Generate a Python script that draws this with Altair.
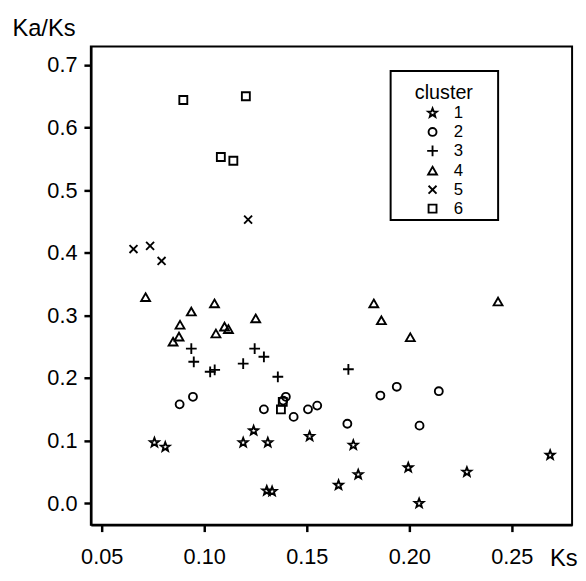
import math
import altair as alt
import pandas as pd

# ---- data (Ks, Ka/Ks) per cluster ----
ks_c1 = [0.0757, 0.0810, 0.1190, 0.1241, 0.1310, 0.1305, 0.1331, 0.1514, 0.1727, 0.1751, 0.1655, 0.1995, 0.2048, 0.2281, 0.2687]
kaks_c1 = [0.097, 0.090, 0.097, 0.116, 0.097, 0.020, 0.019, 0.107, 0.093, 0.046, 0.029, 0.057, 0.000, 0.050, 0.077]

ks_c2 = [0.0880, 0.0945, 0.1291, 0.1385, 0.1398, 0.1436, 0.1506, 0.1551, 0.1698, 0.1859, 0.1939, 0.2050, 0.2144]
kaks_c2 = [0.158, 0.170, 0.150, 0.164, 0.170, 0.138, 0.150, 0.156, 0.127, 0.172, 0.186, 0.124, 0.179]

ks_c3 = [0.0937, 0.0949, 0.1029, 0.1051, 0.1190, 0.1246, 0.1291, 0.1359, 0.1703]
kaks_c3 = [0.247, 0.226, 0.210, 0.213, 0.223, 0.247, 0.234, 0.202, 0.214]

ks_c4 = [0.0714, 0.0937, 0.0882, 0.0877, 0.0848, 0.1050, 0.1057, 0.1099, 0.1118, 0.1251, 0.1827, 0.1864, 0.2433, 0.2005]
kaks_c4 = [0.329, 0.306, 0.285, 0.266, 0.258, 0.319, 0.271, 0.282, 0.278, 0.295, 0.319, 0.292, 0.322, 0.265]

ks_c5 = [0.0655, 0.0736, 0.0792, 0.1214]
kaks_c5 = [0.406, 0.411, 0.387, 0.453]

ks_c6 = [0.0898, 0.1203, 0.1081, 0.1142, 0.1374, 0.1383]
kaks_c6 = [0.644, 0.650, 0.553, 0.547, 0.150, 0.162]

clusters = ["1", "2", "3", "4", "5", "6"]
x_ticks = [0.05, 0.10, 0.15, 0.20, 0.25]
y_ticks = [0.0, 0.1, 0.2, 0.3, 0.4, 0.5, 0.6, 0.7]

series = [(ks_c1, kaks_c1), (ks_c2, kaks_c2), (ks_c3, kaks_c3),
          (ks_c4, kaks_c4), (ks_c5, kaks_c5), (ks_c6, kaks_c6)]
rows = []
for name, (xs, ys) in zip(clusters, series):
    for xv, yv in zip(xs, ys):
        rows.append({"Ks": xv, "KaKs": yv, "cluster": name})
df = pd.DataFrame(rows)

# ---- symbol shapes (unit paths) ----
pts = []
for k in range(10):
    ang = math.radians(-90 + 36 * k)
    r = 1.0 if k % 2 == 0 else 0.42
    pts.append(f"{r*math.cos(ang):.3f},{r*math.sin(ang):.3f}")
star = "M" + "L".join(pts) + "Z"
circle = "M0.85,0A0.85,0.85,0,1,1,-0.85,0A0.85,0.85,0,1,1,0.85,0Z"
plus = "M-1.15,0L1.15,0M0,-1.15L0,1.15"
tri = "M0,-0.85L0.95,0.8L-0.95,0.8Z"
xmark = "M-0.85,-0.85L0.85,0.85M-0.85,0.85L0.85,-0.85"
square = "M-0.85,-0.85L0.85,-0.85L0.85,0.85L-0.85,0.85Z"
shapes = [star, circle, plus, tri, xmark, square]

FONT = "Liberation Sans"
BLANK = "\u2002\u2800\u2800"

chart = alt.Chart(df).mark_point(
    filled=False, size=90, strokeWidth=1.9, color="black", opacity=1
).encode(
    x=alt.X("Ks:Q",
            scale=alt.Scale(domain=[0.0447, 0.2794], nice=False, zero=False),
            axis=alt.Axis(values=x_ticks, format=".2f", title="Ks",
                          titleX=465, titleY=41, titleAlign="left",
                          titleBaseline="alphabetic", labelPadding=15)),
    y=alt.Y("KaKs:Q",
            scale=alt.Scale(domain=[-0.0342, 0.7296], nice=False, zero=False),
            axis=alt.Axis(values=y_ticks, format=".1f", title="Ka/Ks",
                          titleAngle=0, titleX=-80, titleY=-11, titleAlign="left",
                          titleBaseline="alphabetic", labelPadding=7)),
    shape=alt.Shape("cluster:N",
                    scale=alt.Scale(domain=clusters, range=shapes),
                    legend=alt.Legend(
                        title=[" ", "cluster"], orient="none", legendX=304, legendY=25,
                        strokeColor="black", padding=3,
                        titleFontSize=20, titleLineHeight=9, titleAnchor="middle",
                        titleAlign="center", titleBaseline="top", titleFontWeight="normal",
                        titleFont=FONT, titleColor="black", titlePadding=2,
                        labelFont=FONT, labelFontSize=17, labelColor="black",
                        labelOffset=13, symbolOffset=31, rowPadding=1.2,
                        labelExpr="datum.label + '" + BLANK + "'",
                        symbolSize=90, symbolStrokeWidth=1.9,
                        symbolStrokeColor="black")),
).properties(
    width=488, height=485,
    autosize=alt.AutoSizeParams(type="none"),
    padding={"left": 84, "top": 35, "right": 6, "bottom": 44},
).configure_view(
    stroke="black", strokeWidth=2
).configure_axis(
    grid=False, domain=True, domainColor="black", domainWidth=2.5,
    ticks=True, tickColor="black", tickWidth=2.5, tickSize=7,
    labelFont=FONT, labelFontSize=22, labelColor="black",
    titleFont=FONT, titleFontSize=24, titleFontWeight="normal", titleColor="black",
).configure_legend(
    strokeWidth=2
)

chart.save("out.html", embed_options={"renderer": "svg", "actions": False})
